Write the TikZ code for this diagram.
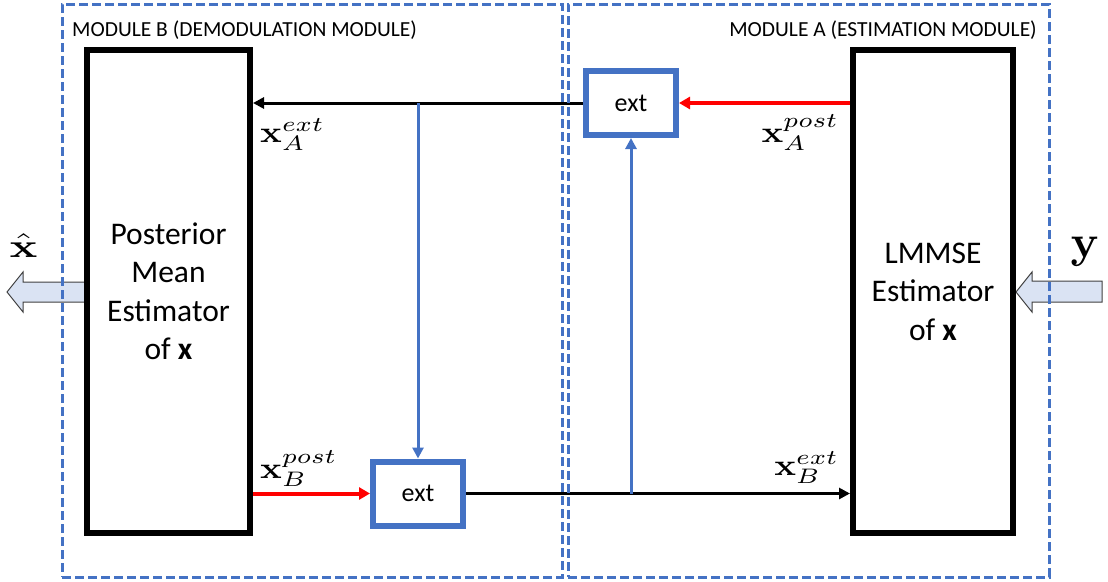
\documentclass[tikz,border=0pt]{standalone}
\usepackage[no-math]{fontspec}
\setmainfont{Carlito}
\usetikzlibrary{arrows.meta}
\definecolor{ublue}{RGB}{68,114,196}
\definecolor{ured}{RGB}{255,0,0}
\definecolor{afill}{RGB}{218,227,243}
\definecolor{aedge}{RGB}{64,64,64}
\begin{document}
\begin{tikzpicture}[x=1pt,y=-1pt,
  modbox/.style={draw=ublue, line width=3pt, dash pattern=on 9pt off 4pt, inner sep=0pt},
  modlabel/.style={font=\fontsize{21.5}{24}\selectfont, inner sep=0pt},
  bigbox/.style={draw=black, line width=6pt, inner sep=0pt, align=center, font=\fontsize{31.5}{38.5}\selectfont},
  extbox/.style={draw=ublue, line width=6pt, minimum width=90pt, minimum height=64pt, inner sep=0pt, font=\fontsize{26}{30}\selectfont},
  blk/.style={draw=black, line width=3pt, -{Triangle[length=11pt,width=11pt]}},
  rdl/.style={draw=ured, line width=4pt, -{Triangle[length=11pt,width=12pt]}},
  bll/.style={draw=ublue, line width=3pt, -{Triangle[length=11pt,width=11pt]}},
  mlab/.style={inner sep=0pt},
  fat/.style={fill=afill, draw=aedge, line width=1pt, line join=miter}
]
\useasboundingbox (0,0) rectangle (1108,581);

% big input/output arrows
\draw[fat] (86,282) -- (23,282) -- (23,272) -- (7,292) -- (23,312) -- (23,302) -- (86,302) -- cycle;
\draw[fat] (1102,281) -- (1032,281) -- (1032,272) -- (1016,292) -- (1032,312) -- (1032,302) -- (1102,302) -- cycle;

% main blocks
\node[bigbox, minimum width=163pt, minimum height=483pt] (postB) at (168.5,291.5)
  {Posterior\\Mean\\Estimator\\of \textbf{x}};
\node[bigbox, minimum width=160pt, minimum height=483pt] (lmmse) at (933,291.5)
  {LMMSE\\Estimator\\of \textbf{x}};

% ext blocks
\node[extbox] (extA) at (631,103) {ext};
\node[extbox] (extB) at (418,493.5) {ext};

% connectors
\draw[blk] (extA.west) -- (extA.west -| postB.east);
\coordinate (splitA) at (extB.north |- extA.west);
\draw[bll] (splitA) -- (extB.north);
\draw[rdl] (extA.east -| lmmse.west) -- (extA.east);
\draw[rdl] (extB.west -| postB.east) -- (extB.west);
\draw[blk] (extB.east) -- (extB.east -| lmmse.west);
\coordinate (splitB) at (extA.south |- extB.east);
\draw[bll] (splitB) -- (extA.south);

% labels
\node[mlab, anchor=base west] (lxAe) at (260,142) {\scalebox{3.6}[3]{$\mathbf{x}_A^{ext}$}};
\node[mlab, anchor=base east] (lxAp) at (839,142) {\scalebox{3.6}[3]{$\mathbf{x}_A^{post}$}};
\node[mlab, anchor=base west] (lxBp) at (260,478) {\scalebox{3.6}[3]{$\mathbf{x}_B^{post}$}};
\node[mlab, anchor=base east] (lxBe) at (839,475) {\scalebox{3.6}[3]{$\mathbf{x}_B^{ext}$}};
\node[mlab, anchor=base] (xhat) at (23.5,257) {\scalebox{4.6}[3.3]{$\hat{\mathbf{x}}$}};
\node[mlab, anchor=base] (yin) at (1085,257) {\scalebox{4.6}{$\mathbf{y}$}};

% module frames
\node[modbox, minimum width=500pt, minimum height=573pt] (modB) at (312,290.5) {};
\node[modbox, minimum width=481pt, minimum height=573pt] (modA) at (808.5,290.5) {};
\node[modlabel, anchor=base west] (labB) at (72,36) {MODULE B (DEMODULATION MODULE)};
\node[modlabel, anchor=base east] (labA) at (1037,36) {MODULE A (ESTIMATION MODULE)};
\end{tikzpicture}
\end{document}
